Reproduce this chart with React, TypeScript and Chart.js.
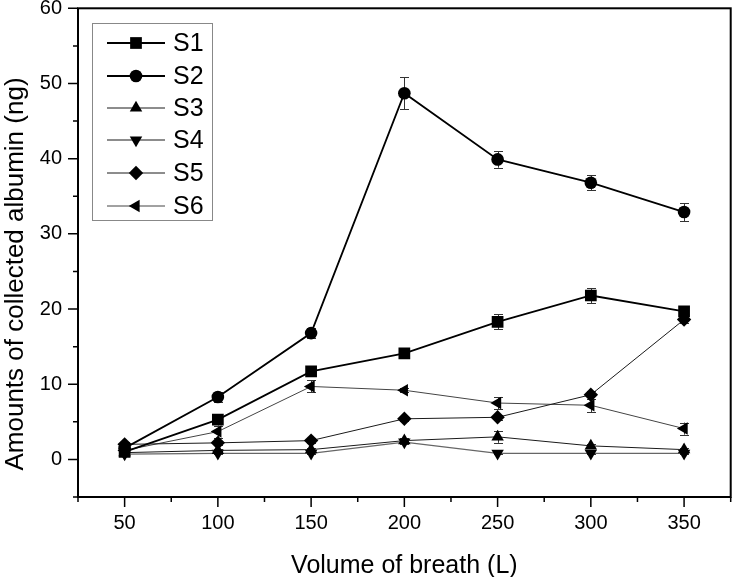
import React, { useEffect, useRef } from "react";
import { Chart, registerables } from "chart.js";

Chart.register(...registerables);

const volumes = [50, 100, 150, 200, 250, 300, 350];
const seriesNames = ["S1", "S2", "S3", "S4", "S5", "S6"];
const s1 = [1.0, 5.3, 11.7, 14.1, 18.3, 21.8, 19.7];
const s2 = [1.5, 8.3, 16.8, 48.7, 39.9, 36.8, 32.9];
const s3 = [0.9, 1.2, 1.3, 2.5, 3.0, 1.8, 1.3];
const s4 = [0.7, 0.8, 0.8, 2.3, 0.8, 0.8, 0.8];
const s5 = [2.0, 2.2, 2.5, 5.4, 5.6, 8.6, 18.6];
const s6 = [1.2, 3.7, 9.7, 9.2, 7.5, 7.2, 4.1];
const e1 = [0.3, 0.4, 0.5, 0.5, 1.0, 1.0, 0.6];
const e2 = [0.4, 0.7, 0.7, 2.1, 1.1, 1.0, 1.2];
const e3 = [0.2, 0.2, 0.2, 0.3, 0.8, 0.3, 0.2];
const e4 = [0.1, 0.1, 0.1, 0.3, 0.1, 0.1, 0.1];
const e5 = [0.3, 0.3, 0.3, 0.3, 0.3, 0.5, 0.5];
const e6 = [0.3, 0.8, 0.8, 0.3, 0.8, 0.9, 0.8];
const xTickLabels = ["50", "100", "150", "200", "250", "300", "350"];
const yTickLabels = ["0", "10", "20", "30", "40", "50", "60"];
const xTitle = "Volume of breath (L)";
const yTitle = "Amounts of collected albumin (ng)";

const FONT = '"Liberation Sans", Arial, sans-serif';

const styles = [
  { pointStyle: "rect", radius: 8.3, rotation: 0, color: "#000", width: 1.8 },
  { pointStyle: "circle", radius: 6.3, rotation: 0, color: "#000", width: 1.8 },
  { pointStyle: "triangle", radius: 7.2, rotation: 0, color: "#1a1a1a", width: 1 },
  { pointStyle: "triangle", radius: 7.2, rotation: 180, color: "#666", width: 1.3 },
  { pointStyle: "rectRot", radius: 7.2, rotation: 0, color: "#1a1a1a", width: 1 },
  { pointStyle: "triangle", radius: 7.2, rotation: 270, color: "#444", width: 1 },
];

function drawMarker(ctx: CanvasRenderingContext2D, style: string, rotation: number, r: number, x: number, y: number) {
  ctx.save();
  ctx.translate(x, y);
  ctx.rotate((rotation * Math.PI) / 180);
  ctx.beginPath();
  if (style === "rect") {
    const s = r * Math.SQRT1_2;
    ctx.rect(-s, -s, 2 * s, 2 * s);
  } else if (style === "circle") {
    ctx.arc(0, 0, r, 0, Math.PI * 2);
  } else if (style === "triangle") {
    let a = 0;
    ctx.moveTo(Math.sin(a) * r, -Math.cos(a) * r);
    a += (2 * Math.PI) / 3;
    ctx.lineTo(Math.sin(a) * r, -Math.cos(a) * r);
    a += (2 * Math.PI) / 3;
    ctx.lineTo(Math.sin(a) * r, -Math.cos(a) * r);
    ctx.closePath();
  } else if (style === "rectRot") {
    ctx.moveTo(-r, 0);
    ctx.lineTo(0, -r);
    ctx.lineTo(r, 0);
    ctx.lineTo(0, r);
    ctx.closePath();
  }
  ctx.fillStyle = "#000";
  ctx.fill();
  ctx.restore();
}

const App: React.FC = () => {
  const ref = useRef<HTMLCanvasElement | null>(null);

  useEffect(() => {
    document.body.style.margin = "0";
    const canvas = ref.current;
    if (!canvas) return;
    const series = [s1, s2, s3, s4, s5, s6];
    const errors = [e1, e2, e3, e4, e5, e6];

    const datasets = series.map((vals, i) => ({
      label: seriesNames[i],
      data: vals.map((v, j) => ({ x: volumes[j], y: v })),
      borderColor: styles[i].color,
      borderWidth: styles[i].width,
      backgroundColor: "#000",
      pointStyle: styles[i].pointStyle,
      pointRotation: styles[i].rotation,
      pointRadius: styles[i].radius,
      pointBackgroundColor: "#000",
      pointBorderColor: "#000",
      pointBorderWidth: 0,
      tension: 0,
      fill: false,
      errors: errors[i],
    }));

    const framePlugin = {
      id: "frame",
      beforeDatasetsDraw(chart: any) {
        const ctx = chart.ctx as CanvasRenderingContext2D;
        const xs = chart.scales.x;
        const ys = chart.scales.y;
        // error bars
        chart.data.datasets.forEach((ds: any) => {
          ctx.save();
          ctx.strokeStyle = "#333";
          ctx.lineWidth = 1;
          ds.data.forEach((p: any, j: number) => {
            const err = ds.errors[j];
            const px = Math.round(xs.getPixelForValue(p.x)) + 0.5;
            const top = ys.getPixelForValue(p.y + err);
            const bot = ys.getPixelForValue(p.y - err);
            ctx.beginPath();
            ctx.moveTo(px, top);
            ctx.lineTo(px, bot);
            ctx.moveTo(px - 4.5, Math.round(top) + 0.5);
            ctx.lineTo(px + 4.5, Math.round(top) + 0.5);
            ctx.moveTo(px - 4.5, Math.round(bot) + 0.5);
            ctx.lineTo(px + 4.5, Math.round(bot) + 0.5);
            ctx.stroke();
          });
          ctx.restore();
        });
      },
      afterDatasetsDraw(chart: any) {
        const ctx = chart.ctx as CanvasRenderingContext2D;
        const { left, right, top, bottom } = chart.chartArea;
        const xs = chart.scales.x;
        const ys = chart.scales.y;
        ctx.save();
        ctx.strokeStyle = "#000";
        ctx.lineWidth = 2;
        ctx.strokeRect(left, top, right - left, bottom - top);
        // ticks
        ctx.lineWidth = 1.5;
        ctx.beginPath();
        for (let v = 25; v <= 375; v += 25) {
          const px = xs.getPixelForValue(v);
          const len = v % 50 === 0 ? 10 : 5;
          ctx.moveTo(px, bottom);
          ctx.lineTo(px, bottom + len);
        }
        for (let v = -5; v <= 60; v += 5) {
          const py = ys.getPixelForValue(v);
          const len = v % 10 === 0 ? 10 : 5;
          ctx.moveTo(left, py);
          ctx.lineTo(left - len, py);
        }
        ctx.stroke();

        // axis titles
        ctx.fillStyle = "#000";
        ctx.font = `25px ${FONT}`;
        ctx.textAlign = "center";
        ctx.textBaseline = "alphabetic";
        ctx.fillText(xTitle, (left + right) / 2, 573);
        ctx.save();
        ctx.translate(23, 274);
        ctx.rotate(-Math.PI / 2);
        ctx.font = `26px ${FONT}`;
        ctx.fillText(yTitle, 0, 0);
        ctx.restore();

        // legend
        const bx = 92, by = 23, bw = 120, bh = 197;
        ctx.fillStyle = "#fff";
        ctx.fillRect(bx, by, bw, bh);
        ctx.strokeStyle = "#888";
        ctx.lineWidth = 1;
        ctx.strokeRect(bx + 0.5, by + 0.5, bw, bh);
        const rowY = [43, 76, 108, 140, 173, 206];
        chart.data.datasets.forEach((ds: any, i: number) => {
          const y = rowY[i];
          ctx.strokeStyle = styles[i].color;
          ctx.lineWidth = styles[i].width;
          ctx.beginPath();
          ctx.moveTo(107, y);
          ctx.lineTo(165, y);
          ctx.stroke();
          drawMarker(ctx, styles[i].pointStyle, styles[i].rotation, styles[i].radius, 136, y);
          ctx.fillStyle = "#000";
          ctx.font = `25px ${FONT}`;
          ctx.textAlign = "left";
          ctx.textBaseline = "middle";
          ctx.fillText(ds.label, 173, y + 1);
        });
        ctx.restore();
      },
    };

    const chart = new Chart(canvas, {
      type: "line",
      data: { datasets: datasets as any },
      options: {
        responsive: false,
        animation: false,
        devicePixelRatio: 1,
        layout: { padding: { top: 8, right: 1, left: 0, bottom: 0 } },
        plugins: { legend: { display: false }, tooltip: { enabled: false } },
        scales: {
          x: {
            type: "linear",
            min: 25,
            max: 375,
            grid: { display: false, drawTicks: false },
            border: { display: false },
            ticks: {
              stepSize: 25,
              autoSkip: false,
              maxRotation: 0,
              padding: 14,
              color: "#000",
              font: { family: FONT, size: 20 },
              callback: (v: any) => {
                const s = String(v);
                return xTickLabels.includes(s) ? s : "";
              },
            },
            afterFit: (s: any) => {
              s.height = 80;
              s.paddingLeft = 0;
              s.paddingRight = 0;
            },
          },
          y: {
            type: "linear",
            min: -5,
            max: 60,
            grid: { display: false, drawTicks: false },
            border: { display: false },
            ticks: {
              stepSize: 5,
              autoSkip: false,
              padding: 16,
              color: "#000",
              font: { family: FONT, size: 20 },
              callback: (v: any) => {
                const s = String(v);
                return yTickLabels.includes(s) ? s : "";
              },
            },
            afterFit: (s: any) => {
              s.width = 78;
              s.paddingTop = 0;
              s.paddingBottom = 0;
            },
          },
        },
      },
      plugins: [framePlugin],
    });
    return () => chart.destroy();
  }, []);

  return (
    <div style={{ position: "fixed", left: 0, top: 0 }}>
      <canvas ref={ref} width={739} height={577} style={{ display: "block", width: 739, height: 577 }} />
    </div>
  );
};

export default App;
